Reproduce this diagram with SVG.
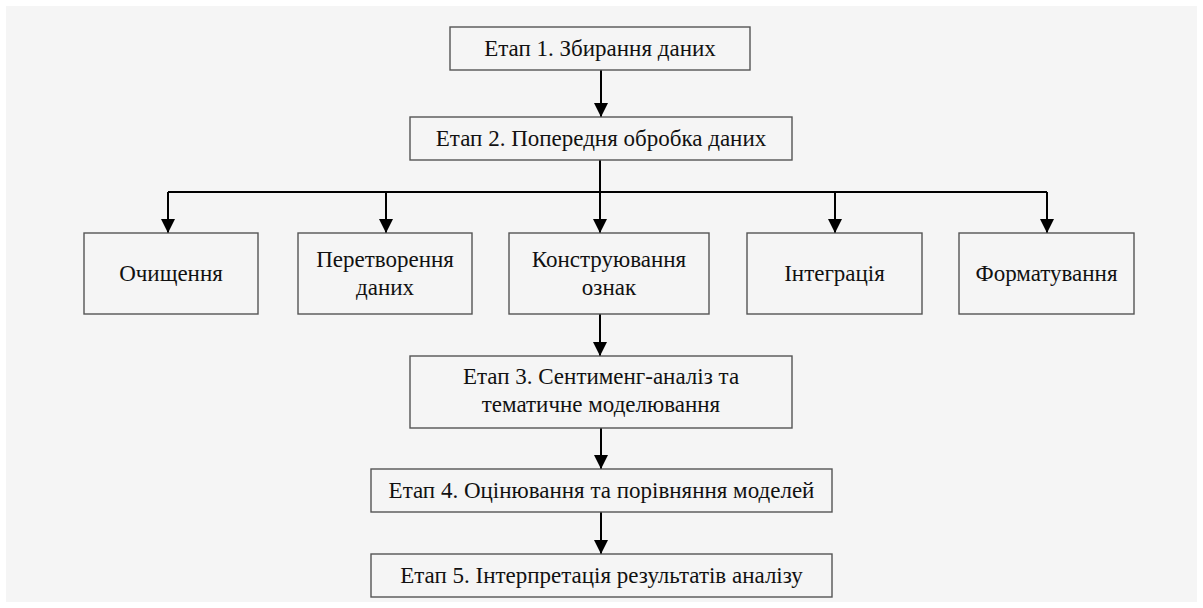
<svg xmlns="http://www.w3.org/2000/svg" width="1203" height="608" viewBox="0 0 1203 608">
<defs>
<style>
.bx{fill:#f5f5f5;stroke:#555;stroke-width:1.4}
.t{font-family:"Liberation Serif","Times New Roman",serif;font-size:23px;fill:#111;text-anchor:middle}
.c{stroke:#000;stroke-width:2;fill:none}
</style>
<marker id="ah" markerWidth="14" markerHeight="16" refX="14" refY="7" orient="auto" markerUnits="userSpaceOnUse" viewBox="0 0 14 14">
<path d="M0,0 L14,7 L0,14 z" fill="#000"/>
</marker>
</defs>
<rect x="0" y="0" width="1203" height="608" fill="#fff"/>
<rect x="6" y="6" width="1191" height="596" fill="#f5f5f5"/>
<g id="connectors">
<line class="c" x1="601" y1="70" x2="601" y2="117" marker-end="url(#ah)"/>
<line class="c" x1="600" y1="160" x2="600" y2="192"/>
<line class="c" x1="168" y1="192" x2="1047" y2="192"/>
<line class="c" x1="168" y1="192" x2="168" y2="233" marker-end="url(#ah)"/>
<line class="c" x1="386" y1="192" x2="386" y2="233" marker-end="url(#ah)"/>
<line class="c" x1="600" y1="192" x2="600" y2="233" marker-end="url(#ah)"/>
<line class="c" x1="835" y1="192" x2="835" y2="233" marker-end="url(#ah)"/>
<line class="c" x1="1047" y1="192" x2="1047" y2="233" marker-end="url(#ah)"/>
<line class="c" x1="600" y1="314" x2="600" y2="356" marker-end="url(#ah)"/>
<line class="c" x1="601" y1="428" x2="601" y2="469" marker-end="url(#ah)"/>
<line class="c" x1="601" y1="512" x2="601" y2="554" marker-end="url(#ah)"/>
</g>
<g id="n1"><rect class="bx" x="450" y="27" width="300" height="43"/><text class="t" x="600" y="56">Етап 1. Збирання даних</text></g>
<g id="n2"><rect class="bx" x="410" y="117" width="382" height="43"/><text class="t" x="601" y="146">Етап 2. Попередня обробка даних</text></g>
<g id="n3"><rect class="bx" x="84" y="233" width="174" height="81"/><text class="t" x="171" y="281">Очищення</text></g>
<g id="n4"><rect class="bx" x="298" y="233" width="174" height="81"/><text class="t" x="385" y="267">Перетворення</text><text class="t" x="385" y="295">даних</text></g>
<g id="n5"><rect class="bx" x="509" y="233" width="200" height="81"/><text class="t" x="609" y="267">Конструювання</text><text class="t" x="609" y="295">ознак</text></g>
<g id="n6"><rect class="bx" x="747" y="233" width="175" height="81"/><text class="t" x="834.5" y="281">Інтеграція</text></g>
<g id="n7"><rect class="bx" x="959" y="233" width="175" height="81"/><text class="t" x="1046.5" y="281">Форматування</text></g>
<g id="n8"><rect class="bx" x="410" y="356" width="382" height="72"/><text class="t" x="601" y="384">Етап 3. Сентименг-аналіз та</text><text class="t" x="601" y="412">тематичне моделювання</text></g>
<g id="n9"><rect class="bx" x="371" y="469" width="461" height="43"/><text class="t" x="601.5" y="498">Етап 4. Оцінювання та порівняння моделей</text></g>
<g id="n10"><rect class="bx" x="371" y="554" width="461" height="43"/><text class="t" x="601.5" y="583">Етап 5. Інтерпретація результатів аналізу</text></g>
</svg>
